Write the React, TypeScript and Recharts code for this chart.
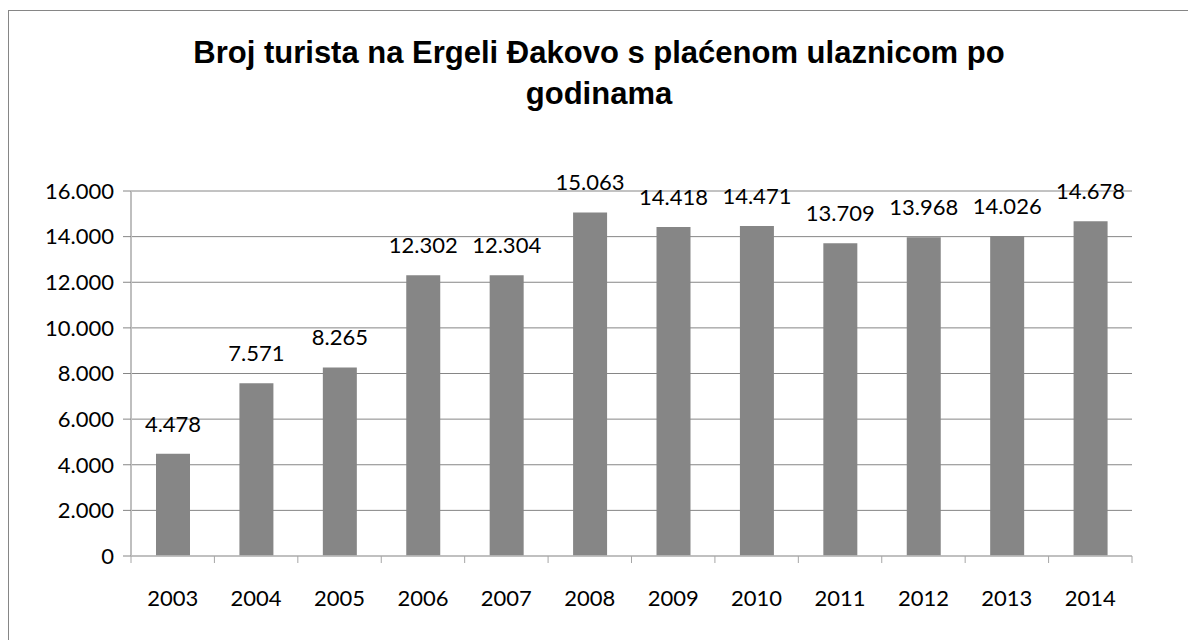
import { BarChart, Bar, XAxis, YAxis, CartesianGrid, LabelList } from 'recharts'

const years = ['2003', '2004', '2005', '2006', '2007', '2008', '2009', '2010', '2011', '2012', '2013', '2014']
const visitors = [4478, 7571, 8265, 12302, 12304, 15063, 14418, 14471, 13709, 13968, 14026, 14678]
const yTicks = [0, 2000, 4000, 6000, 8000, 10000, 12000, 14000, 16000]
const titleLines = ['Broj turista na Ergeli Đakovo s plaćenom ulaznicom po', 'godinama']

const FONT = 'Lato, "Open Sans", sans-serif'
const CHART_W = 1186
const CHART_H = 629
const MARGIN = { top: 180, right: 63, left: 0, bottom: 24 }
const Y_AXIS_W = 122
const PLOT_W = CHART_W - MARGIN.left - MARGIN.right - Y_AXIS_W
const BAND = PLOT_W / years.length

const data = years.map((year, i) => ({ year, value: visitors[i] }))

// hrvatski format: točka kao separator tisućica
const fmt = (v: number) => String(v).replace(/\B(?=(\d{3})+(?!\d))/g, '.')

function YearTick(props: any) {
  const { x, y, payload, index } = props
  const left = x - BAND / 2
  return (
    <g>
      <line x1={left} y1={y} x2={left} y2={y + 7} stroke="#a6a6a6" />
      {index === years.length - 1 && (
        <line x1={x + BAND / 2} y1={y} x2={x + BAND / 2} y2={y + 7} stroke="#a6a6a6" />
      )}
      <text x={x} y={y + 50} textAnchor="middle" fill="#000" fontSize={22} fontFamily={FONT}>
        {payload.value}
      </text>
    </g>
  )
}

export default function App() {
  return (
    <div
      style={{
        position: 'relative',
        marginTop: 2,
        width: CHART_W,
        height: CHART_H,
        borderTop: '1px solid #868686',
        borderLeft: '1px solid #868686',
      }}
    >
      <style>{'body{overflow:hidden}'}</style>
      <div
        style={{
          position: 'absolute',
          top: 21,
          left: 0,
          width: 1180,
          textAlign: 'center',
          fontFamily: '"Liberation Sans", Arial, sans-serif',
          fontWeight: 'bold',
          fontSize: 31,
          lineHeight: '41px',
          color: '#000',
        }}
      >
        {titleLines.map((t) => (
          <div key={t}>{t}</div>
        ))}
      </div>
      <BarChart width={CHART_W} height={CHART_H} data={data} margin={MARGIN}>
        <CartesianGrid vertical={false} stroke="#868686" />
        <XAxis
          dataKey="year"
          height={60}
          tickSize={0}
          tickMargin={0}
          tickLine={false}
          axisLine={{ stroke: '#bfbfbf', strokeWidth: 1.5 }}
          tick={<YearTick />}
          interval={0}
        />
        <YAxis
          width={Y_AXIS_W}
          domain={[0, 16000]}
          ticks={yTicks}
          tickFormatter={fmt}
          tickSize={8}
          tickMargin={9}
          tickLine={{ stroke: '#868686' }}
          axisLine={{ stroke: '#bfbfbf', strokeWidth: 2 }}
          tick={{ fontSize: 22, fill: '#000', fontFamily: FONT }}
        />
        <Bar dataKey="value" fill="#868686" barSize={34} isAnimationActive={false}>
          <LabelList
            dataKey="value"
            position="top"
            offset={22}
            formatter={(v: any) => fmt(Number(v))}
            style={{ fontSize: 22, fill: '#000', fontFamily: FONT }}
          />
        </Bar>
      </BarChart>
    </div>
  )
}
